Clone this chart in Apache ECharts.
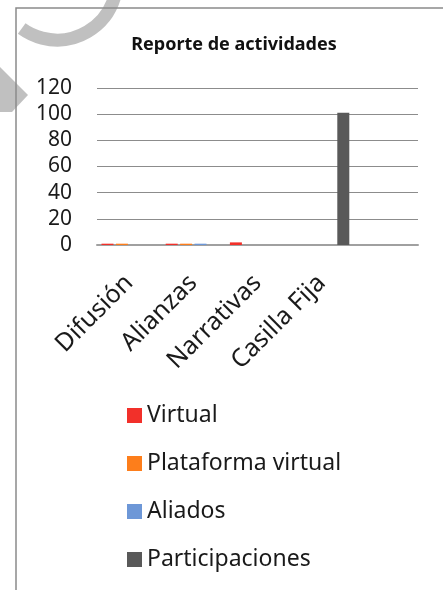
<!DOCTYPE html>
<html><head>
<meta http-equiv="Content-Type" content="text/html; charset=UTF-8">
<title>Reporte de actividades</title>
<script type="text/javascript" src="https://cdn.jsdelivr.net/npm/echarts@6/dist/echarts.min.js"></script>
<style>
html,body{margin:0;padding:0;background:#fff;}
#main{width:443px;height:590px;}
</style>
</head>
<body>
<div id="main"></div>
<script type="text/javascript">
// datos
var categorias = ['Difusión', 'Alianzas', 'Narrativas', 'Casilla Fija', ''];
var virtual = [1, 1, 2, 0, 0];
var plataforma = [1, 1, 0, 0, 0];
var aliados = [0, 1, 0, 0, 0];
var participaciones = [0, 0, 0, 101, 0];
var ticksY = [0, 20, 40, 60, 80, 100, 120];

var fuente = "'Noto Sans', sans-serif";
var colores = ['#f2302a', '#fd7e1b', '#6d97d7', '#595959'];

function serie(nombre, datos, color) {
	return {name: nombre, type: 'bar', data: datos, barWidth: 12, barGap: '20%',
		itemStyle: {color: color}};
}

var opt = {
	animation: false,
	color: colores,
	title: {text: 'Reporte de actividades', left: 229, top: 31, textAlign: 'center',
		textStyle: {fontFamily: fuente, fontSize: 18, fontWeight: 'bold', color: '#111'}},
	grid: {left: 97, right: 25, top: 88, bottom: 345},
	legend: {orient: 'vertical', left: 122, top: 399, itemWidth: 15, itemHeight: 15, itemGap: 25,
		icon: 'rect', textStyle: {fontFamily: fuente, fontSize: 23, color: '#1a1a1a'},
		data: ['Virtual', 'Plataforma virtual', 'Aliados', 'Participaciones']},
	xAxis: {type: 'category', data: categorias,
		axisLine: {lineStyle: {color: '#a0a0a0', width: 2}},
		axisTick: {show: false},
		axisLabel: {rotate: 45, margin: 34, interval: 0, fontFamily: fuente, fontSize: 25, color: '#1a1a1a'}},
	yAxis: {type: 'value', min: ticksY[0], max: ticksY[ticksY.length - 1], interval: 20,
		axisLine: {show: false}, axisTick: {show: false},
		splitLine: {lineStyle: {color: '#8c8c8c', width: 1}},
		axisLabel: {margin: 25, fontFamily: fuente, fontSize: 21, color: '#1a1a1a'}},
	series: [
		serie('Virtual', virtual, colores[0]),
		serie('Plataforma virtual', plataforma, colores[1]),
		serie('Aliados', aliados, colores[2]),
		serie('Participaciones', participaciones, colores[3])
	],
	graphic: [
		// marco
		{type: 'polyline', shape: {points: [[443, 8], [16, 8], [16, 590]]},
			style: {stroke: '#8a8a8a', lineWidth: 1.5, fill: null}},
		// marca de agua
		{type: 'arc', shape: {cx: 57, cy: -20, r: 60, startAngle: 0.25, endAngle: 2.2},
			style: {stroke: 'rgba(140,140,140,0.55)', lineWidth: 13, fill: null}},
		{type: 'polygon', shape: {points: [[0, 67], [28, 95], [12, 112], [0, 112]]},
			style: {fill: 'rgba(140,140,140,0.55)'}}
	]
};
var chart = echarts.init(document.getElementById('main'));
chart.setOption(opt, true);
</script>
</body>
</html>
